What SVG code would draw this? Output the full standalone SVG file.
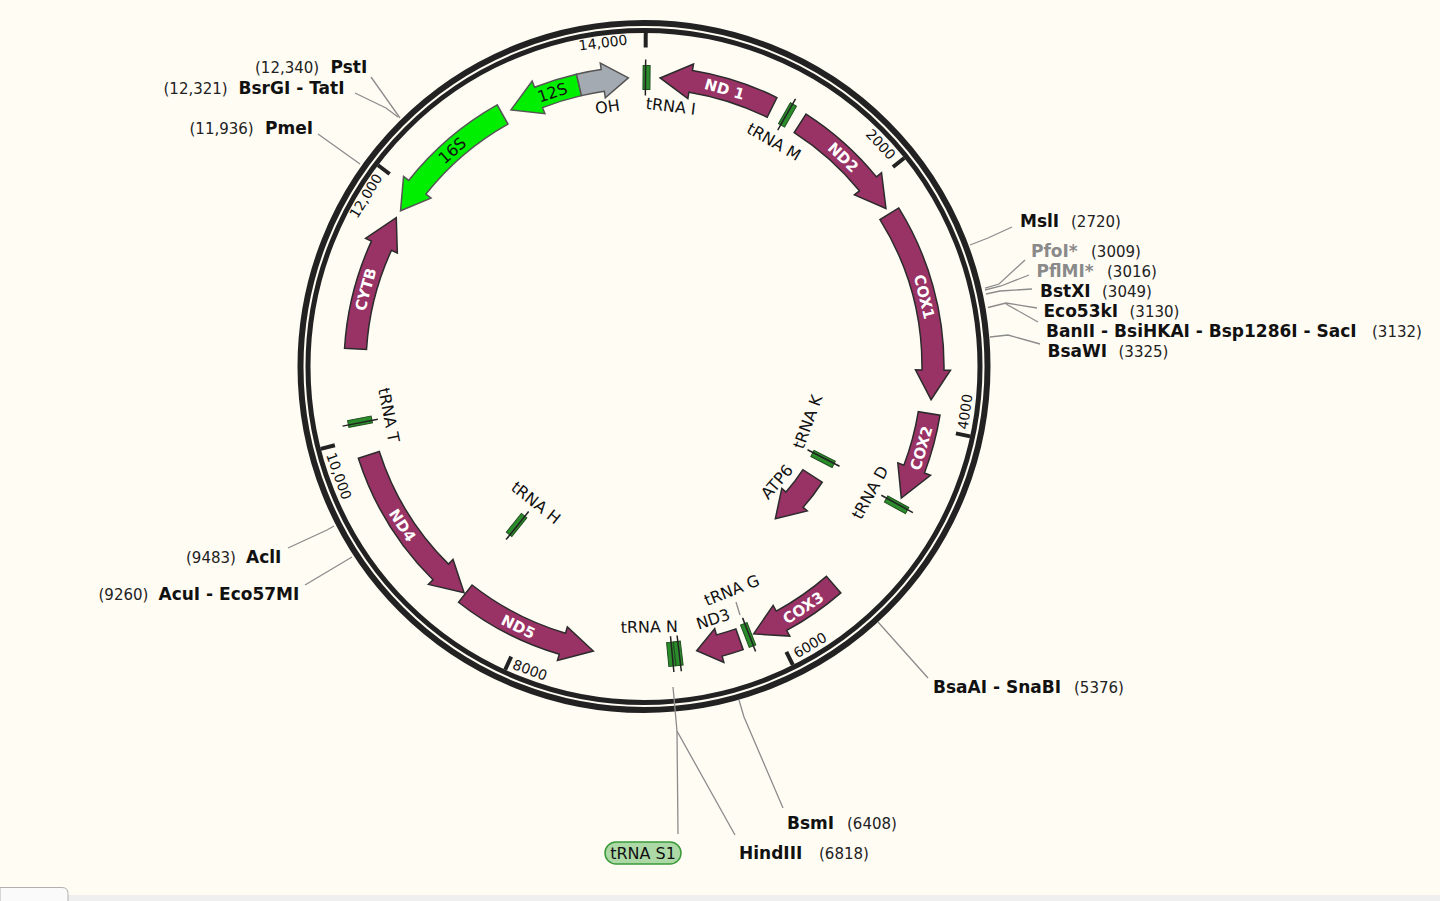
<svg xmlns="http://www.w3.org/2000/svg" width="1440" height="901" viewBox="0 0 1440 901">
<defs>
<style>
.bg{fill:#fffcf4}
.ring{fill:none;stroke:#222}
.tick{stroke:#222;stroke-width:4}
.tl{font-family:"DejaVu Sans",Verdana,sans-serif;font-size:14px;fill:#111;text-anchor:middle}
.cds{fill:#993366;stroke:#2b2b2b;stroke-width:1.5}
.rrna{fill:#00ee00;stroke:#555;stroke-width:1.5}
.ori{fill:#a4aab2;stroke:#555;stroke-width:1.5}
.trna rect{fill:#2b8c2b;stroke:#1f4f1f;stroke-width:1}
.trna line{stroke:#222;stroke-width:1.5}
.fl{font-family:"DejaVu Sans",Verdana,sans-serif;font-size:15px;font-weight:bold;fill:#fff;text-anchor:middle}
.lb{font-family:"DejaVu Sans",Verdana,sans-serif;font-size:16px;fill:#111;text-anchor:middle}
.en{font-family:"DejaVu Sans",Verdana,sans-serif;font-size:17px;font-weight:bold;fill:#111}
.gr{fill:#8a8a8a}
.ep{font-family:"DejaVu Sans",Verdana,sans-serif;font-size:15px;font-weight:normal;fill:#222}
.ll{fill:none;stroke:#8c8c8c;stroke-width:1.3}
</style>
<g id="trna" class="trna"><rect x="-3.5" y="-12" width="7" height="24"/><line x1="-1" y1="-18" x2="-1" y2="18"/></g>
</defs>
<rect class="bg" x="0" y="0" width="1440" height="901"/>

<g id="backbone">
<circle class="ring" cx="644" cy="366.5" r="343.5" stroke-width="6"/>
<circle class="ring" cx="644" cy="366.5" r="336" stroke-width="5"/>
<line class="tick" x1="645.75" y1="30" x2="645.67" y2="47.5"/>
<line class="tick" x1="904.27" y1="157.98" x2="892.96" y2="167.05"/>
<line class="tick" x1="970.09" y1="436.41" x2="955.91" y2="433.37"/>
<line class="tick" x1="792.81" y1="664.96" x2="786.34" y2="651.98"/>
<line class="tick" x1="505.17" y1="669.73" x2="511.21" y2="656.55"/>
<line class="tick" x1="320.83" y1="448.87" x2="334.88" y2="445.29"/>
<line class="tick" x1="378.09" y1="165.22" x2="389.65" y2="173.97"/>
<text class="tl" transform="translate(603,42.5) rotate(-7)" dy="0.36em">14,000</text>
<text class="tl" transform="translate(880.8,144.2) rotate(46.8)" dy="0.36em">2000</text>
<text class="tl" transform="translate(965,411.7) rotate(-82)" dy="0.36em">4000</text>
<text class="tl" transform="translate(810,645) rotate(-30.8)" dy="0.36em">6000</text>
<text class="tl" transform="translate(530,670) rotate(20.6)" dy="0.36em">8000</text>
<text class="tl" transform="translate(339,476) rotate(70.3)" dy="0.36em">10,000</text>
<text class="tl" transform="translate(365.8,195.8) rotate(-58.5)" dy="0.36em">12,000</text>
</g>

<g id="connectors">
<polyline class="ll" points="371,77 400,118"/>
<polyline class="ll" points="355,93 386,108 398,117"/>
<polyline class="ll" points="318,134 360,164"/>
<polyline class="ll" points="1012,227 988,238 970,245"/>
<polyline class="ll" points="1025,260 999,284 985,288"/>
<polyline class="ll" points="1029,275 1001,286 985,290"/>
<polyline class="ll" points="1032,289 1000,291 986,294"/>
<polyline class="ll" points="1037,308 1006,303 988,307.5"/>
<polyline class="ll" points="1038,322 1006,304"/>
<polyline class="ll" points="1040,344 1008,335 990,337"/>
<polyline class="ll" points="288,548 327,530 334,526"/>
<polyline class="ll" points="305,585 352,557"/>
<polyline class="ll" points="928,678 878,622"/>
<polyline class="ll" points="739,700 744,717 783,808"/>
<polyline class="ll" points="673,687 677,731 735,835"/>
<polyline class="ll" points="677,731 678,834"/>
<polyline class="ll" points="736,602 740,615"/>
</g>

<g id="ND1"><path class="cds" d="M776.92,97.55 A300,300 0 0 0 692.48,70.44 L693.53,64.03 L660.13,77.95 L687.87,98.57 L688.92,92.15 A278,278 0 0 1 767.17,117.28 Z"/><text class="fl" transform="translate(724.63,88.98) rotate(16.2)" dy="0.36em">ND 1</text></g>
<g id="ND2"><path class="cds" d="M806.07,114.05 A300,300 0 0 1 876.48,176.89 L881.52,172.78 L885.96,208.46 L854.40,194.90 L859.43,190.80 A278,278 0 0 0 794.19,132.56 Z"/><text class="fl" transform="translate(843.3,157.21) rotate(43.6)" dy="0.36em">ND2</text></g>
<g id="COX1"><path class="cds" d="M898.69,207.97 A300,300 0 0 1 943.98,370.17 L950.48,370.25 L931.08,399.72 L915.48,369.82 L921.98,369.90 A278,278 0 0 0 880.01,219.59 Z"/><text class="fl" transform="translate(924.42,296.59) rotate(76)" dy="0.36em">COX1</text></g>
<g id="COX2"><path class="cds" d="M940.01,415.24 A300,300 0 0 1 924.45,473.03 L930.53,475.34 L901.27,498.15 L897.81,462.91 L903.88,465.22 A278,278 0 0 0 918.31,411.66 Z"/><text class="fl" transform="translate(921.24,448.1) rotate(-73.6)" dy="0.36em">COX2</text></g>
<g id="COX3"><path class="cds" d="M840.82,592.91 A300,300 0 0 1 786.69,630.40 L789.78,636.11 L753.66,633.89 L773.13,605.32 L776.22,611.04 A278,278 0 0 0 826.38,576.31 Z"/><text class="fl" transform="translate(803.09,607.77) rotate(-33.4)" dy="0.36em">COX3</text></g>
<g id="ND3"><path class="cds" d="M743.15,649.64 A300,300 0 0 1 722.15,656.14 L723.84,662.42 L696.67,650.66 L714.73,628.63 L716.42,634.90 A278,278 0 0 0 735.88,628.88 Z"/><text class="lb" transform="translate(713,619) rotate(-18)" dy="0.36em">ND3</text></g>
<g id="ND5"><path class="cds" d="M458.48,602.26 A300,300 0 0 0 559.30,654.29 L557.46,660.53 L593.32,651.02 L567.34,626.95 L565.51,633.19 A278,278 0 0 1 472.08,584.97 Z"/><text class="fl" transform="translate(518.22,626.69) rotate(25.8)" dy="0.36em">ND5</text></g>
<g id="ND4"><path class="cds" d="M358.36,458.21 A300,300 0 0 0 432.98,579.74 L428.41,584.36 L464.09,592.67 L453.03,559.48 L448.46,564.10 A278,278 0 0 1 379.31,451.48 Z"/><text class="fl" transform="translate(402.45,525.17) rotate(56.7)" dy="0.36em">ND4</text></g>
<g id="CYTB"><path class="cds" d="M344.56,348.18 A300,300 0 0 1 371.45,241.14 L365.54,238.42 L396.28,217.65 L397.34,253.05 L391.43,250.33 A278,278 0 0 0 366.52,349.53 Z"/><text class="fl" transform="translate(365.51,289.27) rotate(-74.5)" dy="0.36em">CYTB</text></g>
<g id="rRNA16S"><path class="rrna" d="M497.19,104.88 A300,300 0 0 0 408.67,180.43 L403.57,176.40 L400.53,210.80 L431.03,198.10 L425.93,194.07 A278,278 0 0 1 507.95,124.06 Z"/><text class="lb" transform="translate(452.14,150.39) rotate(-41.6)" dy="0.36em">16S</text></g>
<g id="rRNA12S"><path class="rrna" d="M576.51,74.19 A300,300 0 0 0 534.54,87.18 L532.16,81.13 L510.99,109.92 L544.94,113.72 L542.56,107.67 A278,278 0 0 1 581.46,95.63 Z"/><text class="lb" transform="translate(552.3,92.44) rotate(-18.5)" dy="0.36em">12S</text></g>
<g id="OH"><path class="ori" d="M576.51,74.19 A300,300 0 0 1 601.21,69.57 L600.28,63.13 L628.37,77.92 L605.28,97.77 L604.35,91.34 A278,278 0 0 0 581.46,95.63 Z"/><text class="lb" transform="translate(607.5,106.7) rotate(-8)" dy="0.36em">OH</text></g>
<g id="ATP6"><path class="cds" d="M822.22,482.24 A212.5,212.5 0 0 1 803.15,507.31 L807.27,510.95 L775.34,518.66 L781.81,488.42 L785.93,492.07 A189.5,189.5 0 0 0 802.93,469.71 Z"/><text class="lb" transform="translate(776.7,481.7) rotate(-49)" dy="0.36em">ATP6</text></g>

<g id="tRNA_I"><use href="#trna" transform="translate(646.52,77.51) rotate(0.5)"/><text class="lb" transform="translate(670.8,106) rotate(7)" dy="0.36em">tRNA I</text></g>
<g id="tRNA_M"><use href="#trna" transform="translate(787.49,114.94) rotate(29.7)"/><text class="lb" transform="translate(774,141.7) rotate(30)" dy="0.36em">tRNA M</text></g>
<g id="tRNA_D"><use href="#trna" transform="translate(896.62,504.8) rotate(118.7)"/><text class="lb" transform="translate(870,492.5) rotate(-61)" dy="0.36em">tRNA D</text></g>
<g id="tRNA_K"><use href="#trna" transform="translate(823.06,458.92) rotate(117.3)"/><text class="lb" transform="translate(807.5,421.7) rotate(-70)" dy="0.36em">tRNA K</text></g>
<g id="tRNA_G"><use href="#trna" transform="translate(748.15,635.01) rotate(158.8)"/><text class="lb" transform="translate(731.7,590) rotate(-22)" dy="0.36em">tRNA G</text></g>
<g id="tRNA_N"><use href="#trna" transform="translate(671.2,654.22) rotate(174.6)"/><text class="lb" transform="translate(649.3,626.7) rotate(-1)" dy="0.36em">tRNA N</text></g>
<g id="tRNA_S1"><use href="#trna" transform="translate(678.22,653.47) rotate(173.2)"/><rect x="605" y="842" width="76" height="22" rx="11" fill="#acd9a6" stroke="#3a9a3a" stroke-width="1.5"/><text class="lb" x="643" y="853" dy="0.36em">tRNA S1</text></g>
<g id="tRNA_H"><use href="#trna" transform="translate(516.61,524.94) rotate(218.8)"/><text class="lb" transform="translate(536,502.5) rotate(38.5)" dy="0.36em">tRNA H</text></g>
<g id="tRNA_T"><use href="#trna" transform="translate(360.01,421.7) rotate(259)"/><text class="lb" transform="translate(389,415) rotate(79)" dy="0.36em">tRNA T</text></g>

<g id="enzymes">
<text y="73"><tspan class="ep" x="255">(12,340)</tspan><tspan class="en" x="330.5">PstI</tspan></text>
<text y="93.5"><tspan class="ep" x="163.5">(12,321)</tspan><tspan class="en" x="238.5">BsrGI - TatI</tspan></text>
<text y="134"><tspan class="ep" x="189.5">(11,936)</tspan><tspan class="en" x="265">PmeI</tspan></text>
<text y="227"><tspan class="en" x="1020">MslI</tspan><tspan class="ep" x="1071">(2720)</tspan></text>
<text y="256.5"><tspan class="en gr" x="1031">PfoI*</tspan><tspan class="ep" x="1091">(3009)</tspan></text>
<text y="276.5"><tspan class="en gr" x="1036.5">PflMI*</tspan><tspan class="ep" x="1107">(3016)</tspan></text>
<text y="296.5"><tspan class="en" x="1040">BstXI</tspan><tspan class="ep" x="1102">(3049)</tspan></text>
<text y="316.5"><tspan class="en" x="1043.5">Eco53kI</tspan><tspan class="ep" x="1129.5">(3130)</tspan></text>
<text y="336.5"><tspan class="en" x="1046">BanII - BsiHKAI - Bsp1286I - SacI</tspan><tspan class="ep" x="1372">(3132)</tspan></text>
<text y="356.5"><tspan class="en" x="1047.5">BsaWI</tspan><tspan class="ep" x="1118.5">(3325)</tspan></text>
<text y="563"><tspan class="ep" x="186">(9483)</tspan><tspan class="en" x="246">AclI</tspan></text>
<text y="600"><tspan class="ep" x="98.5">(9260)</tspan><tspan class="en" x="158.5">AcuI - Eco57MI</tspan></text>
<text y="693"><tspan class="en" x="933">BsaAI - SnaBI</tspan><tspan class="ep" x="1074">(5376)</tspan></text>
<text y="829"><tspan class="en" x="787">BsmI</tspan><tspan class="ep" x="847">(6408)</tspan></text>
<text y="859"><tspan class="en" x="739">HindIII</tspan><tspan class="ep" x="819">(6818)</tspan></text>
</g>

<g id="footer">
<rect x="0" y="895" width="1440" height="6" fill="#efefef"/>
<path d="M0,901 L0,887.5 L62,887.5 Q68,887.5 68,893.5 L68,901" fill="#fafafa" stroke="#b0b0b0" stroke-width="1"/>
</g>
</svg>
